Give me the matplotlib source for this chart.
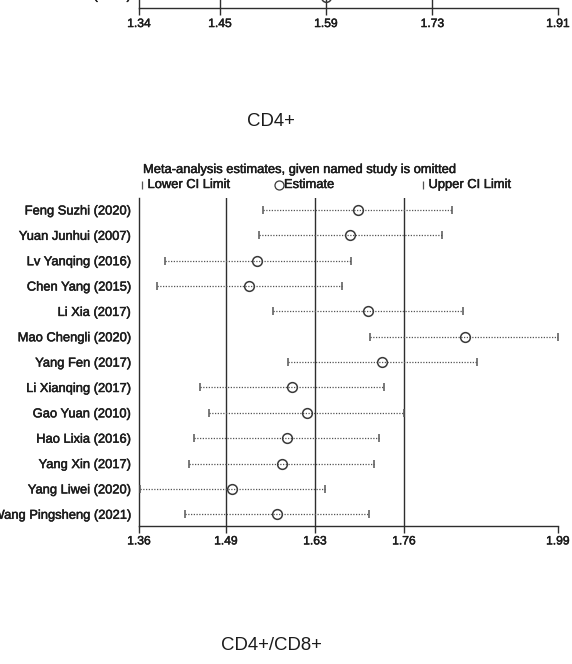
import matplotlib
matplotlib.use("Agg")
import matplotlib.pyplot as plt
from matplotlib.lines import Line2D
import matplotlib.patheffects as pe

plt.rcParams['font.family'] = ['Liberation Sans', 'DejaVu Sans']

# ---------------- data: CD4+ panel ----------------
studies = ["Feng Suzhi (2020)", "Yuan Junhui (2007)", "Lv Yanqing (2016)",
           "Chen Yang (2015)", "Li Xia (2017)", "Mao Chengli (2020)",
           "Yang Fen (2017)", "Li Xianqing (2017)", "Gao Yuan (2010)",
           "Hao Lixia (2016)", "Yang Xin (2017)", "Yang Liwei (2020)",
           "Wang Pingsheng (2021)"]
lower = [1.546, 1.540, 1.399, 1.387, 1.562, 1.708, 1.584, 1.452, 1.465,
         1.443, 1.435, 1.362, 1.429]
estimate = [1.689, 1.677, 1.537, 1.525, 1.704, 1.850, 1.726, 1.590, 1.612,
            1.583, 1.575, 1.500, 1.568]
upper = [1.830, 1.816, 1.679, 1.665, 1.847, 1.990, 1.868, 1.728, 1.758,
         1.721, 1.713, 1.639, 1.706]
tick_values = [1.36, 1.4908, 1.6246, 1.7584, 1.99]
tick_labels = ["1.36", "1.49", "1.63", "1.76", "1.99"]
overall = [1.4908, 1.6246, 1.7584]   # lower CI, estimate, upper CI

# ---------------- data: previous panel (cut off at top) ----------------
prev_tick_values = [1.34, 1.4502, 1.5944, 1.7392, 1.91]
prev_tick_labels = ["1.34", "1.45", "1.59", "1.73", "1.91"]
prev_overall = [1.4502, 1.5944, 1.7392]
prev_last_label = "Li Xia (2017)"
prev_last_est = 1.5944

W, H = 572, 664
fig = plt.figure(figsize=(W / 100, H / 100), dpi=100)

TXT = '#1c1c1c'
REF = '#2e2e2e'
DOT = '#555555'
MK = '#3a3a3a'
LBL_FS = 9.3
TICK_FS = 8.7
BOLDEN = [pe.withStroke(linewidth=0.35, foreground=TXT)]


def fx(x):
    return x / W


def fy(y):
    return 1 - y / H


def style_axis(ax, tv, tl, xlim):
    ax.set_xlim(*xlim)
    for s in ('top', 'right'):
        ax.spines[s].set_visible(False)
    for s in ('left', 'bottom'):
        ax.spines[s].set_color(REF)
        ax.spines[s].set_linewidth(1.0)
    ax.set_xticks(tv, tl)
    ax.tick_params(axis='x', direction='out', length=5, width=1.0,
                   color=REF, pad=2, labelsize=TICK_FS, labelcolor=TXT)
    for t in ax.get_xticklabels():
        t.set_path_effects(BOLDEN)
    ax.set_facecolor('none')


# ---------------- main CD4+ panel ----------------
top_px, bot_px, left_px, right_px = 198, 525.7, 139, 558
ax = fig.add_axes([fx(left_px), fy(bot_px), (right_px - left_px) / W,
                   (bot_px - top_px) / H])
rows = list(range(1, len(studies) + 1))
style_axis(ax, tick_values, tick_labels, (tick_values[0], tick_values[-1]))
ax.set_ylim(13.45, 0.527)
ax.set_yticks(rows, studies)
ax.tick_params(axis='y', length=0, pad=5.8, labelsize=LBL_FS, labelcolor=TXT)
for t in ax.get_yticklabels():
    t.set_path_effects(BOLDEN)

for v in overall:
    ax.axvline(v, color=REF, lw=1.0, zorder=1)
ax.hlines(rows, lower, upper, colors=DOT, lw=0.9,
          linestyles=(0, (1, 1.2)), zorder=2)
ax.plot(lower, rows, ls='none', marker='|', ms=6, mew=1.1, color=DOT,
        clip_on=False, zorder=3)
ax.plot(upper, rows, ls='none', marker='|', ms=6, mew=1.1, color=DOT,
        clip_on=False, zorder=3)
ax.plot(estimate, rows, ls='none', marker='o', ms=7, mfc='none', mew=1.1,
        mec=MK, clip_on=False, zorder=4)

# ---------------- previous panel (bottom edge only) ----------------
ax0 = fig.add_axes([fx(left_px), fy(8.3), (right_px - left_px) / W,
                    (8.3 + 30.0) / H])
style_axis(ax0, prev_tick_values, prev_tick_labels,
           (prev_tick_values[0], prev_tick_values[-1]))
ax0.set_ylim(13.45, 11.94)
ax0.set_yticks([])
for v in prev_overall:
    ax0.axvline(v, color=REF, lw=1.0, zorder=1)
ax0.plot([prev_last_est], [13], ls='none', marker='o', ms=7, mfc='none',
         mew=1.1, mec=MK, clip_on=False, zorder=4)
fig.text(fx(131), fy(-0.8), prev_last_label, ha='right', va='baseline',
         fontsize=LBL_FS, color=TXT, path_effects=BOLDEN)

# ---------------- titles and legend ----------------
fig.text(fx(271), fy(121), "CD4+", ha='center', va='center', fontsize=13.4,
         color=TXT)
fig.text(fx(271), fy(645), "CD4+/CD8+", ha='center', va='center',
         fontsize=13.4, color=TXT)
fig.text(fx(143), fy(170), "Meta-analysis estimates, given named study is omitted",
         ha='left', va='center', fontsize=LBL_FS, color=TXT,
         path_effects=BOLDEN)

legend_items = [("Lower CI Limit", '|', 142), ("Estimate", 'o', 279),
                ("Upper CI Limit", '|', 423)]
for label, mk, xp in legend_items:
    if mk == 'o':
        fig.add_artist(Line2D([fx(xp)], [fy(185)], ls='none', marker='o',
                              ms=6.5, mfc='none', mew=0.9, mec=MK,
                              transform=fig.transFigure))
        fig.text(fx(xp + 5), fy(185), label, ha='left', va='center',
                 fontsize=LBL_FS, color=TXT, path_effects=BOLDEN)
    else:
        fig.add_artist(Line2D([fx(xp)], [fy(185)], ls='none', marker='|',
                              ms=6, mew=0.9, color=DOT,
                              transform=fig.transFigure))
        fig.text(fx(xp + 5.5), fy(185), label, ha='left', va='center',
                 fontsize=LBL_FS, color=TXT, path_effects=BOLDEN)

fig.savefig("out.png", dpi=100)
